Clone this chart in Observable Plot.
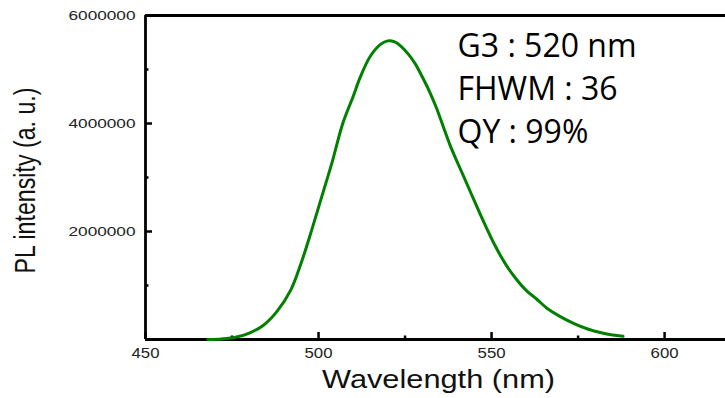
<!DOCTYPE html>
<html>
<head>
<meta charset="utf-8">
<script src="https://cdn.jsdelivr.net/npm/d3@7"></script>
<script src="https://cdn.jsdelivr.net/npm/@observablehq/plot@0.6"></script>
<style>
  html, body { margin: 0; padding: 0; background: white; }
</style>
</head>
<body>
<div id="chart"></div>
<script>
// Emission spectrum (wavelength in nm, PL intensity in a.u.)
const wavelength = [468, 472, 476, 480, 484, 488, 492, 495, 498, 501, 504, 507, 510, 512, 515, 518, 520, 522, 524, 526, 528, 530, 532, 534, 536, 538, 540, 542, 545, 548, 551, 554, 557, 560, 563, 566, 570, 574, 578, 582, 585, 588];
const intensity = [0, 10000, 40000, 120000, 260000, 520000, 920000, 1420000, 2020000, 2660000, 3300000, 4000000, 4500000, 4850000, 5250000, 5470000, 5530000, 5510000, 5420000, 5280000, 5100000, 4860000, 4600000, 4300000, 3950000, 3600000, 3300000, 3010000, 2570000, 2140000, 1740000, 1400000, 1130000, 910000, 750000, 580000, 420000, 290000, 190000, 120000, 85000, 60000];

const xDomain = [450, 617.6];
const yDomain = [0, 6000000];
const xMajorTicks = [450, 500, 550, 600];
const xMinorTicks = [475, 525, 575];
const yMajorTicks = [2000000, 4000000, 6000000];
const yMinorTicks = [1000000, 3000000, 5000000];
const xTitle = "Wavelength (nm)";
const yTitle = "PL intensity (a. u.)";
const annotationLines = ["G3 : 520 nm", "FHWM : 36", "QY : 99%"];

const spectrum = wavelength.map((w, i) => ({wavelength: w, intensity: intensity[i]}));

const chart = Plot.plot({
  width: 725,
  height: 398,
  marginLeft: 145,
  marginRight: 0,
  marginTop: 15,
  marginBottom: 59,
  style: {fontFamily: "'Liberation Sans', Arial, sans-serif", background: "white", color: "black"},
  x: {domain: xDomain},
  y: {domain: yDomain},
  marks: [
    // frame lines (left, bottom, top)
    Plot.ruleX([xDomain[0]], {stroke: "black", strokeWidth: 2.8}),
    Plot.ruleY([yDomain[0]], {stroke: "black", strokeWidth: 2.8}),
    Plot.ruleY([yDomain[1]], {stroke: "black", strokeWidth: 2.8}),
    // inward ticks
    Plot.axisX(xMajorTicks, {tickSize: -7, fill: "none", stroke: "black", strokeWidth: 2.5, label: null}),
    Plot.axisX(xMinorTicks, {tickSize: -3.5, fill: "none", stroke: "black", strokeWidth: 2.5, label: null}),
    Plot.axisY(yMajorTicks, {tickSize: -7, fill: "none", stroke: "black", strokeWidth: 2.5, label: null}),
    Plot.axisY(yMinorTicks, {tickSize: -3.5, fill: "none", stroke: "black", strokeWidth: 2.5, label: null}),
    // tick labels
    Plot.axisX(xMajorTicks, {tickSize: 0, tickPadding: 8, fontSize: 15, fill: "#222", tickFormat: d => String(d), label: null}),
    Plot.axisY(yMajorTicks, {tickSize: 0, tickPadding: 10, fontSize: 12.5, fill: "#222", tickFormat: d => String(d), label: null}),
    // spectrum
    Plot.line(spectrum, {x: "wavelength", y: "intensity", stroke: "rgb(0,128,0)", strokeWidth: 3, curve: "catmull-rom"}),
    // axis titles
    Plot.text([xTitle], {frameAnchor: "bottom", text: d => d, dx: 3, dy: 40, lineAnchor: "middle", textAnchor: "middle", fontSize: 26, fill: "#111"}),
    Plot.text([yTitle], {frameAnchor: "left", text: d => d, rotate: -90, dx: -120, dy: 3, lineAnchor: "middle", textAnchor: "middle", fontSize: 30, fill: "#111"}),
    // annotation
    Plot.text([annotationLines.join("\n")], {frameAnchor: "top-left", text: d => d, dx: 312, dy: 11, lineAnchor: "top", textAnchor: "start", lineHeight: 1.34, fontSize: 32, fontFamily: "'Open Sans', sans-serif", fill: "black"})
  ]
});

const svg = d3.select(chart);
svg.selectAll('g[aria-label="y-axis tick label"] text').attr("textLength", 67).attr("lengthAdjust", "spacingAndGlyphs");
svg.selectAll('g[aria-label="x-axis tick label"] text').attr("textLength", 28).attr("lengthAdjust", "spacingAndGlyphs");
svg.selectAll('g[aria-label="text"] text').each(function() {
  const t = d3.select(this);
  const s = t.text();
  if (s === xTitle) t.attr("textLength", 233).attr("lengthAdjust", "spacingAndGlyphs");
  if (s === yTitle) t.attr("textLength", 186).attr("lengthAdjust", "spacingAndGlyphs");
});

document.getElementById("chart").appendChild(chart);
</script>
</body>
</html>
